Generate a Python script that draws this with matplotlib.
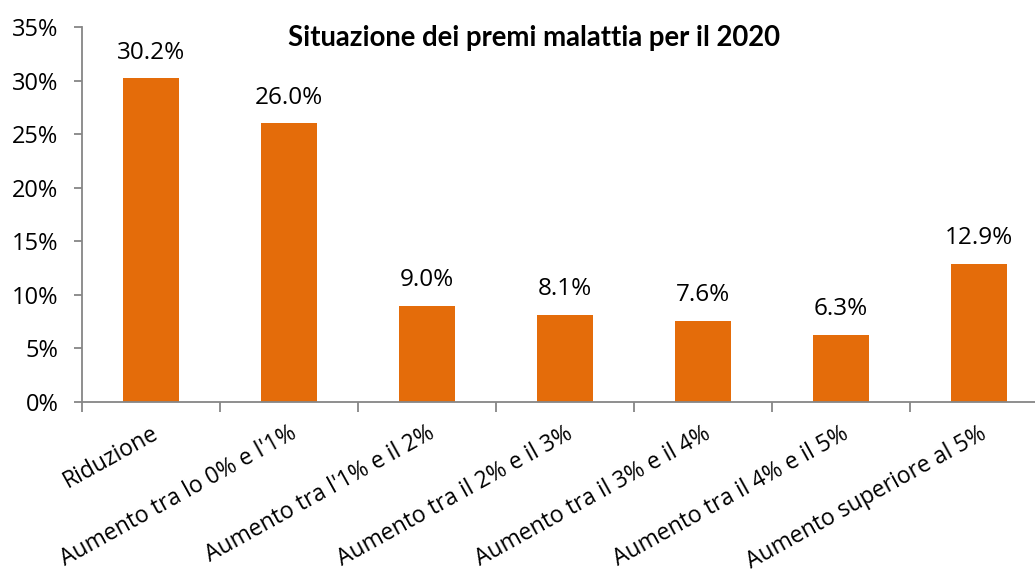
import matplotlib
matplotlib.use("Agg")
import matplotlib.pyplot as plt
import numpy as np

categories = [
    "Riduzione",
    "Aumento tra lo 0% e l'1%",
    "Aumento tra l'1% e il 2%",
    "Aumento tra il 2% e il 3%",
    "Aumento tra il 3% e il 4%",
    "Aumento tra il 4% e il 5%",
    "Aumento superiore al 5%",
]
values = [30.2, 26.0, 9.0, 8.1, 7.6, 6.3, 12.9]
title = "Situazione dei premi malattia per il 2020"

plt.rcParams["font.family"] = ["Open Sans", "DejaVu Sans"]

bar_color = "#E46C0A"
axis_color = "#868686"

fig = plt.figure(figsize=(10.35, 5.75), dpi=100)
ax = fig.add_axes([82 / 1035, 1 - 402 / 575, 966 / 1035, 375 / 575])

x = np.arange(len(categories))
ax.bar(x, values, width=0.4, color=bar_color)

for xi, v in zip(x, values):
    ax.annotate(f"{v:.1f}%", (xi, v), xytext=(0, 10), textcoords="offset points",
                ha="center", va="bottom", fontsize=17.5)

ax.set_xlim(-0.5, len(categories) - 0.5)
ax.set_ylim(0, 35)
ax.set_yticks(np.arange(0, 36, 5))
ax.set_yticklabels([f"{t}%" for t in range(0, 36, 5)], fontsize=17)

# category boundary ticks, labels at the centers
ax.set_xticks(np.arange(-0.5, len(categories), 1))
ax.set_xticklabels([])
ax.set_xticks(x, minor=True)
ax.set_xticklabels(categories, minor=True, rotation=29, ha="right",
                   rotation_mode="anchor", fontsize=16.5)
ax.tick_params(axis="x", which="major", length=7, color=axis_color, width=1.3)
ax.tick_params(axis="x", which="minor", length=0, pad=14)
ax.tick_params(axis="y", length=6, color=axis_color, width=1.3, pad=11)

for s in ["top", "right"]:
    ax.spines[s].set_visible(False)
for s in ["left", "bottom"]:
    ax.spines[s].set_color(axis_color)
    ax.spines[s].set_linewidth(1.3)

fig.text(534 / 1035, 1 - 38 / 575, title, ha="center", va="center",
         fontsize=19.8, fontweight="bold", family=["Lato", "DejaVu Sans"])

fig.savefig("out.png", dpi=100)
